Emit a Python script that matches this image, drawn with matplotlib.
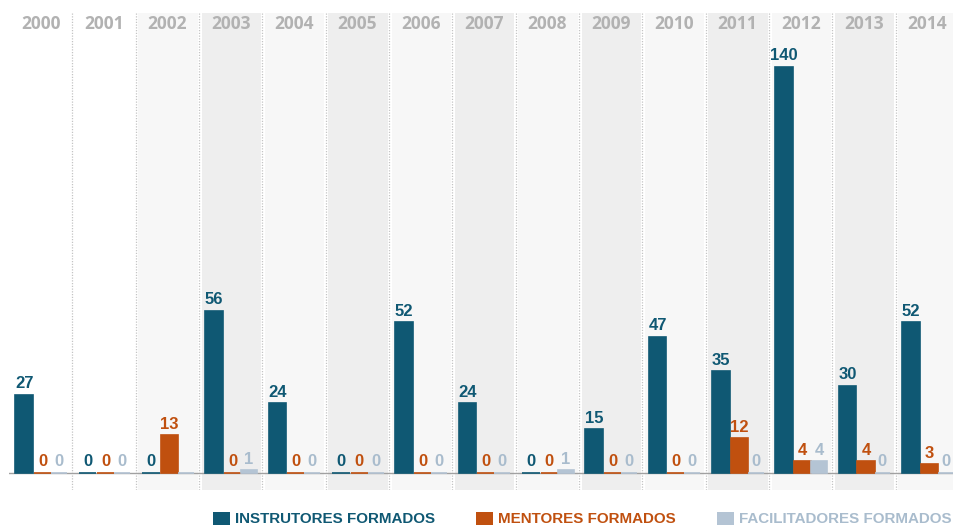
import matplotlib
matplotlib.use("Agg")
import matplotlib.pyplot as plt
from matplotlib.patches import Patch
import numpy as np


YEARS = ["2000", "2001", "2002", "2003", "2004", "2005", "2006", "2007",
         "2008", "2009", "2010", "2011", "2012", "2013", "2014"]
INSTRUTORES = [27, 0, 0, 56, 24, 0, 52, 24, 0, 15, 47, 35, 140, 30, 52]
MENTORES = [0, 0, 13, 0, 0, 0, 0, 0, 0, 0, 0, 12, 4, 4, 3]
FACILITADORES = [0, 0, 0, 1, 0, 0, 0, 0, 1, 0, 0, 0, 4, 0, 0]
SERIES_NAMES = ["INSTRUTORES FORMADOS", "MENTORES FORMADOS", "FACILITADORES FORMADOS"]

# (series index, year index) pairs whose value label is not shown
HIDDEN_LABELS = {(2, 2)}

BAR_COLORS = ["#0f5873", "#c0500f", "#b4c4d4"]
LABEL_COLORS = ["#0f5873", "#c0500f", "#a9bccd"]
LIGHT_BG = "#f7f7f7"
DARK_BG = "#eeeeee"

NUM_FONT = ["Liberation Sans", "DejaVu Sans"]

fig = plt.figure(figsize=(9.54, 5.29), dpi=100)
ax = fig.add_axes([9 / 954, 39 / 529, 945 / 954, 477 / 529])
ax.set_xlim(-0.5, 14.42)
ax.set_ylim(-5.9, 158.6)
ax.axis("off")

x = np.arange(len(YEARS))

# alternating column shading (first two columns stay white)
for i in x:
    if i < 2:
        continue
    color = LIGHT_BG if i % 2 == 0 else DARK_BG
    ax.axvspan(i - 0.5 + 0.04, i + 0.5 - 0.02, color=color, lw=0, zorder=0)

# dotted separators between columns
for i in x[1:]:
    ax.axvline(i - 0.5, color="#c4c4c4", lw=0.9, ls=(0, (1, 1.2)), zorder=1)

# baseline
ax.axhline(0, color="#a0a0a0", lw=1.0, zorder=2)

offsets = [-0.26, 0.03, 0.29]
widths = [0.28, 0.27, 0.25]
for s, values in enumerate([INSTRUTORES, MENTORES, FACILITADORES]):
    xs = x + offsets[s]
    ax.bar(xs, values, width=widths[s], color=BAR_COLORS[s],
           edgecolor=BAR_COLORS[s], linewidth=1.2, zorder=3)
    for i, v in enumerate(values):
        if (s, i) in HIDDEN_LABELS:
            continue
        ax.annotate(str(v), (xs[i], v), xytext=(0, 2.5),
                    textcoords="offset points", ha="center", va="bottom",
                    fontsize=12, fontweight="bold", color=LABEL_COLORS[s],
                    family=NUM_FONT, zorder=4)

# year headers
for i, year in enumerate(YEARS):
    ax.text(i, 154.8, year, ha="center", va="center", fontsize=12.5,
            fontweight="bold", color="#b2b2b2",
            family=["Open Sans", "DejaVu Sans"], zorder=4)

handles = [Patch(facecolor=c, edgecolor="none") for c in BAR_COLORS]
leg = fig.legend(handles, SERIES_NAMES, ncol=3, loc="center left",
                 bbox_to_anchor=(213 / 954, 10 / 529), frameon=False,
                 handlelength=1.1, handleheight=0.95, handletextpad=0.33,
                 columnspacing=2.75, borderpad=0, borderaxespad=0,
                 prop={"family": NUM_FONT, "weight": "bold", "size": 10.9})
for text, color in zip(leg.get_texts(), LABEL_COLORS):
    text.set_color(color)

fig.savefig("out.png", dpi=100)
